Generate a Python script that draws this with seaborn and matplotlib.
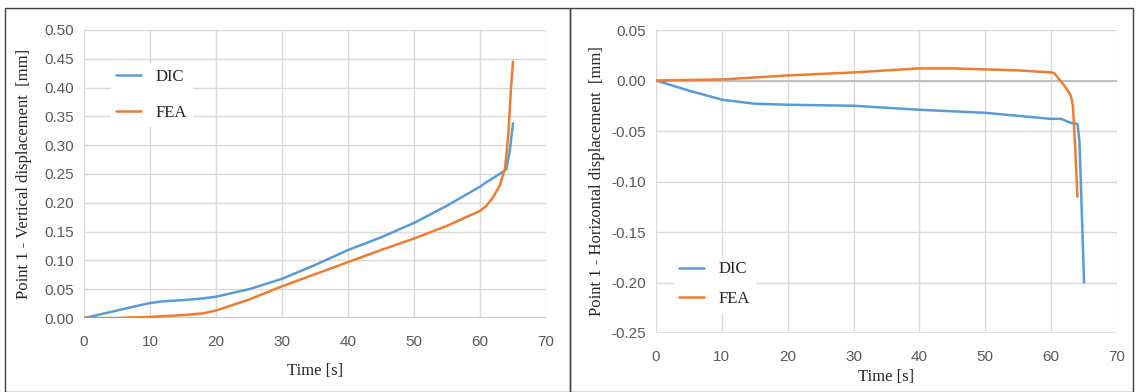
import matplotlib
matplotlib.use("Agg")
import matplotlib.pyplot as plt
import seaborn as sns
import numpy as np
from matplotlib.patches import Rectangle
from matplotlib.ticker import FuncFormatter

# ---- data ----
v_dic_t = [0, 2, 5, 8, 10, 12, 15, 18, 20, 25, 30, 35, 40, 45, 50, 55, 60, 61, 62, 63.5, 64, 64.5, 65]
v_dic_y = [0, 0.005, 0.013, 0.021, 0.026, 0.029, 0.031, 0.034, 0.037, 0.05, 0.068, 0.092, 0.118, 0.14, 0.165, 0.195, 0.228, 0.236, 0.243, 0.254, 0.258, 0.29, 0.338]
v_fea_t = [0, 5, 10, 15, 18, 20, 25, 30, 35, 40, 45, 50, 55, 60, 61, 62, 63, 63.8, 64.3, 64.7, 65]
v_fea_y = [0, 0, 0.002, 0.005, 0.008, 0.013, 0.032, 0.055, 0.076, 0.097, 0.118, 0.138, 0.16, 0.186, 0.195, 0.21, 0.23, 0.26, 0.32, 0.40, 0.445]

h_dic_t = [0, 5, 10, 15, 20, 30, 40, 50, 55, 60, 61.5, 63, 64, 64.3, 65]
h_dic_y = [0, -0.01, -0.019, -0.023, -0.024, -0.025, -0.029, -0.032, -0.035, -0.038, -0.038, -0.042, -0.043, -0.06, -0.2]
h_fea_t = [0, 10, 20, 30, 40, 45, 50, 55, 60, 60.5, 62, 63, 63.3, 63.6, 64]
h_fea_y = [0, 0.001, 0.005, 0.008, 0.012, 0.012, 0.011, 0.01, 0.008, 0.007, -0.005, -0.015, -0.025, -0.06, -0.115]

series_names = ["DIC", "FEA"]
colors = ["#5B9BD5", "#ED7D31"]

sns.set_theme(style="white")
plt.rcParams['font.family'] = ['Liberation Sans', 'DejaVu Sans']

fig = plt.figure(figsize=(11.36, 3.92), dpi=100)

# panel borders
fig.patches.append(Rectangle((5/1136, 0.0), 565/1136, 1 - 8/392, transform=fig.transFigure,
                             fill=False, edgecolor="#404040", linewidth=1.0))
fig.patches.append(Rectangle((570/1136, 0.0), 563/1136, 1 - 8/392, transform=fig.transFigure,
                             fill=False, edgecolor="#404040", linewidth=1.0))

ax1 = fig.add_axes([84/1136, 1 - 318/392, 462/1136, 288/392])
ax2 = fig.add_axes([656/1136, 1 - 333/392, 461/1136, 303/392])

grid_c = "#D9D9D9"
tick_c = "#595959"
serif = ['Liberation Serif', 'DejaVu Serif']

def style(ax, xpad):
    for s in ax.spines.values():
        s.set_visible(False)
    ax.grid(True, color=grid_c, linewidth=1.0)
    ax.set_axisbelow(True)
    ax.tick_params(axis='both', length=0, labelsize=11, labelcolor=tick_c)
    ax.tick_params(axis='y', pad=7)
    ax.tick_params(axis='x', pad=xpad)
    ax.set_xlim(0, 70)
    ax.set_xticks(np.arange(0, 71, 10))

# left
sns.lineplot(x=v_dic_t, y=v_dic_y, ax=ax1, color=colors[0], linewidth=1.8, label=series_names[0])
sns.lineplot(x=v_fea_t, y=v_fea_y, ax=ax1, color=colors[1], linewidth=1.8, label=series_names[1])
style(ax1, 12)
ax1.set_ylim(0, 0.5)
ax1.set_yticks(np.arange(0, 0.501, 0.05))
ax1.yaxis.set_major_formatter(FuncFormatter(lambda v, p: f"{v:.2f}"))
ax1.axhline(0, color="#BFBFBF", linewidth=1.2, zorder=1)
ax1.set_xlabel("Time [s]", family=serif, fontsize=12, color="#262626", labelpad=10)
ax1.set_ylabel("Point 1 - Vertical displacement  [mm]", family=serif, fontsize=12, color="#262626", labelpad=9)
leg1 = ax1.legend(loc="upper left", bbox_to_anchor=(0.04, 0.91), frameon=True, fancybox=False,
                  prop={'family': serif, 'size': 12}, handlelength=1.5, labelspacing=1.2,
                  borderpad=0.3, handletextpad=0.9)
leg1.get_frame().set_edgecolor("white")
leg1.get_frame().set_alpha(1)

# right
sns.lineplot(x=h_dic_t, y=h_dic_y, ax=ax2, color=colors[0], linewidth=1.8, label=series_names[0])
sns.lineplot(x=h_fea_t, y=h_fea_y, ax=ax2, color=colors[1], linewidth=1.8, label=series_names[1])
style(ax2, 12)
ax2.set_ylim(-0.25, 0.05)
ax2.set_yticks(np.arange(-0.25, 0.051, 0.05))
ax2.yaxis.set_major_formatter(FuncFormatter(lambda v, p: f"{v:.2f}".replace("-0.00", "0.00")))
ax2.axhline(0, color="#BFBFBF", linewidth=1.4, zorder=1)
ax2.axhline(-0.25, color="#D9D9D9", linewidth=1.2, zorder=1)
ax2.set_xlabel("Time [s]", family=serif, fontsize=12, color="#262626", labelpad=4)
ax2.set_ylabel("Point 1 - Horizontal displacement  [mm]", family=serif, fontsize=12, color="#262626", labelpad=5)
leg2 = ax2.legend(loc="upper left", bbox_to_anchor=(0.02, 0.28), frameon=True, fancybox=False,
                  prop={'family': serif, 'size': 12}, handlelength=1.5, labelspacing=0.8,
                  borderpad=0.3, handletextpad=0.9)
leg2.get_frame().set_edgecolor("white")
leg2.get_frame().set_alpha(1)

fig.savefig("out.png", dpi=100, facecolor="white")
